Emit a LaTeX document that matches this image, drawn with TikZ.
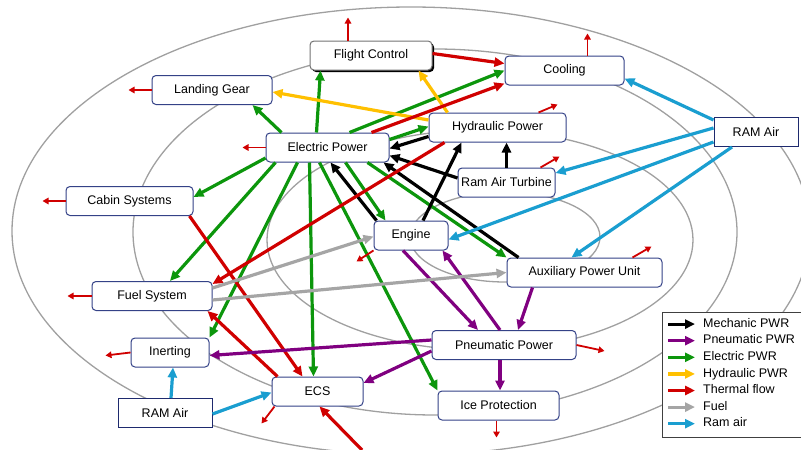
\documentclass[tikz,border=0pt]{standalone}
\usepackage{fontspec}
\setmainfont{Liberation Sans}
\usetikzlibrary{arrows.meta,shadows}

\definecolor{boxblue}{RGB}{52,66,135}
\definecolor{ramnavy}{RGB}{30,42,110}
\definecolor{ringgray}{RGB}{160,160,160}
\definecolor{legframe}{RGB}{64,64,64}
\definecolor{mechc}{RGB}{0,0,0}
\definecolor{pneuc}{RGB}{128,0,128}
\definecolor{elecc}{RGB}{12,150,12}
\definecolor{hydrc}{RGB}{255,192,0}
\definecolor{thermc}{RGB}{208,0,0}
\definecolor{fuelc}{RGB}{165,165,165}
\definecolor{ramc}{RGB}{26,158,208}

\begin{document}
\begin{tikzpicture}[x=1pt, y=-1pt,
    sysbox/.style={draw=boxblue, line width=1pt, rounded corners=4pt, fill=white,
        minimum height=29pt, inner xsep=2pt, font=\fontsize{12.5}{15}\selectfont},
    rambox/.style={sysbox, sharp corners, draw=ramnavy},
    flow/.style={line width=3.2pt, -{Triangle[length=10pt,width=9pt]}},
    heat/.style={thermc, line width=1.8pt, -{Triangle[length=6pt,width=6.5pt]}},
    ring/.style={ringgray, line width=1.3pt}]

    \useasboundingbox (0,0) rectangle (801,450);

    \draw[ring] (411,231) ellipse [x radius=399pt, y radius=224pt];
    \draw[ring] (435,232) ellipse [x radius=302pt, y radius=183pt];
    \draw[ring] (480,240) ellipse [x radius=213pt, y radius=110pt];
    \draw[ring] (505,237) ellipse [x radius=95pt, y radius=45pt];

    \node[draw=legframe, line width=1pt, fill=white, minimum width=144pt, minimum height=125pt] (legend) at (734,374.5) {};

    \node[sysbox, draw=black!55, minimum width=122pt,
        drop shadow={shadow xshift=2pt, shadow yshift=-2pt, fill=black, opacity=1}] (fc) at (371,55.5) {Flight Control};
    \node[sysbox, minimum width=119pt] (cool) at (564.5,70.5) {Cooling};
    \node[sysbox, minimum width=120pt] (lg) at (212,90) {Landing Gear};
    \node[sysbox, minimum width=137pt] (hp) at (497.5,127.5) {Hydraulic Power};
    \node[rambox, minimum width=84pt] (ram1) at (756,132) {RAM Air};
    \node[sysbox, minimum width=123pt] (ep) at (327.5,147.5) {Electric Power};
    \node[sysbox, minimum width=97pt] (rat) at (506.5,182.5) {Ram Air Turbine};
    \node[sysbox, minimum width=127pt] (cab) at (129.5,201) {Cabin Systems};
    \node[sysbox, minimum width=74pt] (eng) at (411,235.5) {Engine};
    \node[sysbox, minimum width=155pt] (apu) at (584.5,272.5) {Auxiliary Power Unit};
    \node[sysbox, minimum width=120pt] (fuel) at (152,296) {Fuel System};
    \node[sysbox, minimum width=78pt] (inert) at (170,352.5) {Inerting};
    \node[rambox, minimum width=94pt] (ram2) at (165,413) {RAM Air};
    \node[sysbox, minimum width=91pt] (ecs) at (317.5,391.5) {ECS};
    \node[sysbox, minimum width=144pt] (pneu) at (504,345) {Pneumatic Power};
    \node[sysbox, minimum width=121pt] (ice) at (498.5,405.5) {Ice Protection};

    \coordinate (below) at (362,450);

    % electric power
    \draw[flow, elecc] ([xshift=16pt]ep.north west) -- ([xshift=-20pt]lg.south east);
    \draw[flow, elecc] ([xshift=51pt]ep.north west) -- ([xshift=11pt]fc.south west);
    \draw[flow, elecc] ([xshift=-40pt]ep.north east) -- (cool.west);
    \draw[flow, elecc] ([yshift=8pt]ep.east) -- ([yshift=1pt]hp.west);
    \draw[flow, elecc] ([yshift=-10.5pt]ep.west) -- ([yshift=4pt]cab.east);
    \draw[flow, elecc] ([xshift=10pt]ep.south west) -- ([xshift=18pt]fuel.north);
    \draw[flow, elecc] ([xshift=32pt]ep.south west) -- (inert.north east);
    \draw[flow, elecc] ([xshift=44pt]ep.south west) -- ([xshift=-4pt]ecs.north);
    \draw[flow, elecc] ([xshift=54pt]ep.south west) -- (ice.north west);
    \draw[flow, elecc] ([xshift=80pt]ep.south west) -- ([xshift=12pt]eng.north west);
    \draw[flow, elecc] ([xshift=-22pt]ep.south east) -- (apu.north west);

    % mechanic
    \draw[flow, mechc] ([yshift=-9pt]hp.west) -- ([yshift=-1pt]ep.east);
    \draw[flow, mechc] ([yshift=4.5pt]rat.west) -- ([yshift=-8pt]ep.east);
    \draw[flow, mechc] ([xshift=3pt]eng.north west) -- ([xshift=-59pt]ep.south east);
    \draw[flow, mechc] ([xshift=12pt]apu.north west) -- ([xshift=-6pt]ep.south east);
    \draw[flow, mechc] ([xshift=12pt]eng.north) -- ([xshift=33pt]hp.south west);
    \draw[flow, mechc] (rat.north) -- (rat.north |- hp.south);

    % hydraulic
    \draw[flow, hydrc] ([yshift=7.5pt]hp.west) -- ([yshift=-2pt]lg.east);
    \draw[flow, hydrc] ([xshift=19pt]hp.north west) -- ([xshift=-14pt]fc.south east);

    % thermal
    \draw[flow, thermc] ([yshift=2pt]fc.east) -- ([yshift=7pt]cool.west);
    \draw[flow, thermc] ([xshift=-18pt]ep.north east) -- ([yshift=-13pt]cool.west);
    \draw[flow, thermc] ([xshift=16pt]hp.south west) -- ([yshift=12pt]fuel.east);
    \draw[flow, thermc] ([xshift=-4pt]cab.south east) -- ([xshift=-15pt]ecs.north);
    \draw[flow, thermc] ([xshift=6pt]ecs.north west) -- ([xshift=-5pt]fuel.south east);
    \draw[flow, thermc] (below) -- ([xshift=2pt]ecs.south);

    \foreach \n/\a/\sx/\dx/\dy in {fc/north/-23/0/-23, cool/north/23/0/-22, lg/west/0/-23/0,
        ep/west/0/-23/0, cab/west/0/-23/0, fuel/west/0/-24/0, inert/west/0/-25/3,
        ecs/south west/3/-13/17, eng/south west/0/-17/11, hp/north east/-28/19/-8,
        rat/north east/-15/19/-11, apu/north east/-30/19/-11, pneu/east/0/28/6, ice/south/-2/0/17}
        \draw[heat] ([xshift=\sx pt]\n.\a) -- ++(\dx,\dy);

    % pneumatic
    \draw[flow, pneuc] ([xshift=-8pt]eng.south) -- ([xshift=-26pt]pneu.north);
    \draw[flow, pneuc] ([xshift=-4pt]pneu.north) -- ([xshift=-6pt]eng.south east);
    \draw[flow, pneuc] ([xshift=26pt]apu.south west) -- ([xshift=14pt]pneu.north);
    \draw[flow, pneuc] ([yshift=5pt]pneu.west) -- ([yshift=-3pt]inert.east);
    \draw[flow, pneuc] ([yshift=-6pt]pneu.west) -- ([yshift=8.5pt]ecs.east);
    \draw[flow, pneuc] ([xshift=-4pt]pneu.south) -- ([xshift=-4pt]pneu.south |- ice.north);

    % fuel
    \draw[flow, fuelc] ([yshift=8pt]fuel.east) -- ([yshift=-1pt]eng.west);
    \draw[flow, fuelc] ([yshift=-4pt]fuel.east) -- (apu.west);

    % ram air
    \draw[flow, ramc] ([yshift=12pt]ram1.west) -- ([yshift=-8pt]cool.east);
    \draw[flow, ramc] ([yshift=4pt]ram1.west) -- ([yshift=9.5pt]rat.east);
    \draw[flow, ramc] ([yshift=-10pt]ram1.west) -- ([yshift=-4pt]eng.east);
    \draw[flow, ramc] ([xshift=-24pt]ram1.south) -- ([xshift=-13pt]apu.north);
    \draw[flow, ramc] ([xshift=6pt]ram2.north) -- ([xshift=3pt]inert.south);
    \draw[flow, ramc] ([yshift=-1pt]ram2.east) -- ([yshift=-1pt]ecs.west);

    \foreach \c/\t [count=\i] in {mechc/Mechanic PWR, pneuc/Pneumatic PWR, elecc/Electric PWR,
        hydrc/Hydraulic PWR, thermc/Thermal flow, fuelc/Fuel, ramc/Ram air} {
        \node[anchor=west, inner sep=0pt, text height=9pt, text depth=2.5pt,
            font=\fontsize{12.5}{15}\selectfont] (key\i) at (703,307.5+16.6*\i) {\t};
        \draw[flow, \c] ([xshift=-35pt]key\i.west) -- ([xshift=-8pt]key\i.west);
    }

\end{tikzpicture}
\end{document}
